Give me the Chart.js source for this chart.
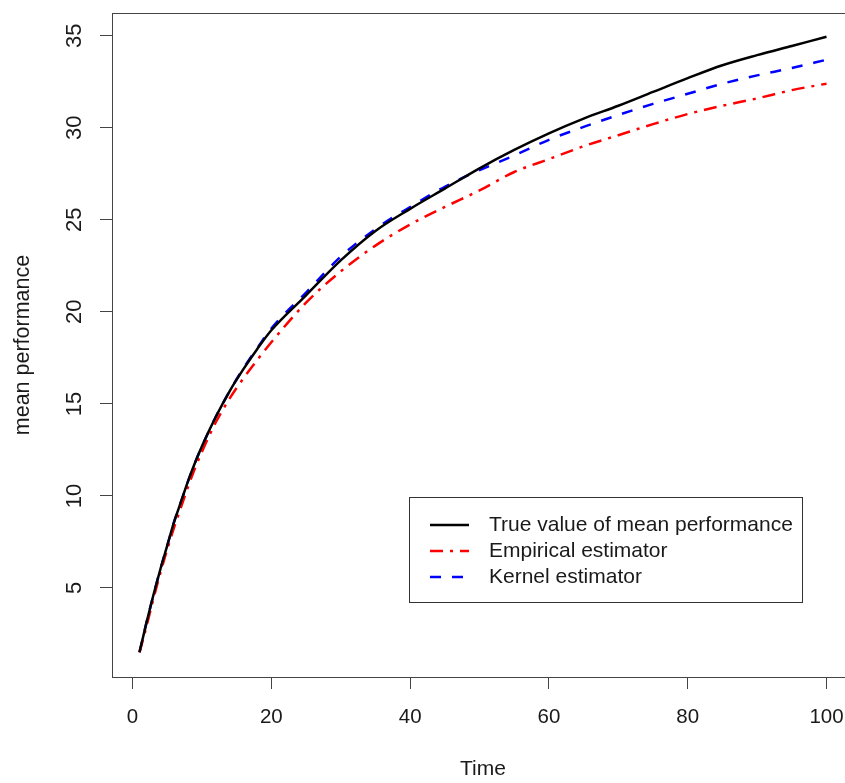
<!DOCTYPE html>
<html>
<head>
<meta charset="utf-8">
<script src="https://cdn.jsdelivr.net/npm/chart.js@4/dist/chart.umd.min.js"></script>
<style>
  html, body { margin: 0; padding: 0; background: #fff; overflow: hidden; }
  #wrap { width: 845px; height: 783px; overflow: hidden; }
  canvas { display: block; }
</style>
</head>
<body>
<div id="wrap"><canvas id="c" width="860" height="783" style="width:860px;height:783px"></canvas></div>
<script>
// values
const times     = [1, 2, 3, 4, 5, 6, 7, 8, 9, 10, 12, 14, 16, 18, 20, 25, 30, 35, 40, 45, 50, 55, 60, 65, 70, 75, 80, 85, 90, 95, 100];
const trueMean  = [1.5, 3.1, 4.6, 6.0, 7.3, 8.6, 9.7, 10.8, 11.8, 12.7, 14.3, 15.7, 16.9, 18.0, 19.0, 20.9, 22.8, 24.4, 25.6, 26.7, 27.8, 28.8, 29.7, 30.5, 31.2, 31.95, 32.7, 33.4, 33.95, 34.45, 34.95];
const empirical = [1.5, 2.9, 4.4, 5.8, 7.1, 8.3, 9.4, 10.5, 11.5, 12.4, 14.0, 15.3, 16.4, 17.4, 18.35, 20.5, 22.2, 23.6, 24.75, 25.7, 26.6, 27.6, 28.3, 29.0, 29.6, 30.2, 30.75, 31.2, 31.6, 32.05, 32.4];
const kernel    = [1.5, 3.1, 4.6, 6.0, 7.3, 8.6, 9.7, 10.8, 11.8, 12.7, 14.3, 15.7, 16.95, 18.05, 19.1, 21.05, 23.0, 24.5, 25.7, 26.8, 27.7, 28.5, 29.35, 30.05, 30.7, 31.3, 31.85, 32.4, 32.85, 33.25, 33.7];
const seriesNames = ['True value of mean performance', 'Empirical estimator', 'Kernel estimator'];
const xTicks = [0, 20, 40, 60, 80, 100];
const yTicks = [5, 10, 15, 20, 25, 30, 35];

const FONT = '"Liberation Sans", Arial, sans-serif';
const INK = '#1a1a1a';
const FRAME = '#444';

function pts(ys) { return times.map((t, i) => ({ x: t, y: ys[i] })); }

// frame, rotated y labels, axis titles and the boxed legend (R style)
const rDecor = {
  id: 'rDecor',
  afterDraw(chart) {
    const { ctx, chartArea: a, scales } = chart;
    ctx.save();
    ctx.strokeStyle = FRAME;
    ctx.lineWidth = 1;
    ctx.strokeRect(a.left + 0.5, a.top + 0.5, a.right - a.left, a.bottom - a.top);

    ctx.fillStyle = INK;
    ctx.textAlign = 'center';
    ctx.textBaseline = 'middle';
    ctx.font = '22px ' + FONT;
    yTicks.forEach(v => {
      const y = scales.y.getPixelForValue(v);
      ctx.save();
      ctx.translate(75, y);
      ctx.rotate(-Math.PI / 2);
      ctx.fillText(String(v), 0, 0);
      ctx.restore();
    });

    ctx.font = '21.5px ' + FONT;
    ctx.save();
    ctx.translate(23, (a.top + a.bottom) / 2);
    ctx.rotate(-Math.PI / 2);
    ctx.fillText('mean performance', 0, 0);
    ctx.restore();

    ctx.font = '21px ' + FONT;
    ctx.fillText('Time', (a.left + a.right) / 2, 769);

    // legend
    ctx.strokeStyle = '#333';
    ctx.strokeRect(409.5, 497.5, 393, 105);
    chart.data.datasets.forEach((ds, i) => {
      const y = 525 + i * 26;
      ctx.save();
      ctx.strokeStyle = ds.borderColor;
      ctx.lineWidth = 2.5;
      ctx.setLineDash(ds.borderDash || []);
      ctx.beginPath();
      ctx.moveTo(430, y);
      ctx.lineTo(469, y);
      ctx.stroke();
      ctx.restore();
      ctx.textAlign = 'left';
      ctx.fillStyle = INK;
      ctx.fillText(ds.label, 489, y);
    });
    ctx.restore();
  }
};

new Chart(document.getElementById('c'), {
  type: 'line',
  data: {
    datasets: [
      { label: seriesNames[0], data: pts(trueMean), borderColor: '#000000', borderWidth: 2.5, borderDash: [] },
      { label: seriesNames[1], data: pts(empirical), borderColor: '#ff0000', borderWidth: 2.5, borderDash: [13, 7, 3, 7] },
      { label: seriesNames[2], data: pts(kernel), borderColor: '#0000ff', borderWidth: 2.5, borderDash: [11, 11] },
    ],
  },
  options: {
    responsive: false,
    animation: false,
    layout: { padding: { top: 13, right: 6, left: 0, bottom: 0 } },
    elements: { point: { radius: 0 }, line: { cubicInterpolationMode: 'monotone' } },
    plugins: { legend: { display: false }, tooltip: { enabled: false } },
    scales: {
      x: {
        type: 'linear',
        min: -2.96,
        max: 103.96,
        afterBuildTicks: s => { s.ticks = xTicks.map(v => ({ value: v })); },
        afterFit: s => { s.height = 106; },
        ticks: { color: INK, font: { family: FONT, size: 20.5 }, padding: 16, maxRotation: 0, autoSkip: false },
        grid: { drawOnChartArea: false, drawTicks: true, tickLength: 12, color: FRAME, lineWidth: 1 },
        border: { display: true, color: FRAME, width: 1 },
      },
      y: {
        type: 'linear',
        min: 0.16,
        max: 36.24,
        afterBuildTicks: s => { s.ticks = yTicks.map(v => ({ value: v })); },
        afterFit: s => { s.width = 112; },
        ticks: { display: false },
        grid: { drawOnChartArea: false, drawTicks: true, tickLength: 12, color: FRAME, lineWidth: 1 },
        border: { display: true, color: FRAME, width: 1 },
      },
    },
  },
  plugins: [rDecor],
});
</script>
</body>
</html>
